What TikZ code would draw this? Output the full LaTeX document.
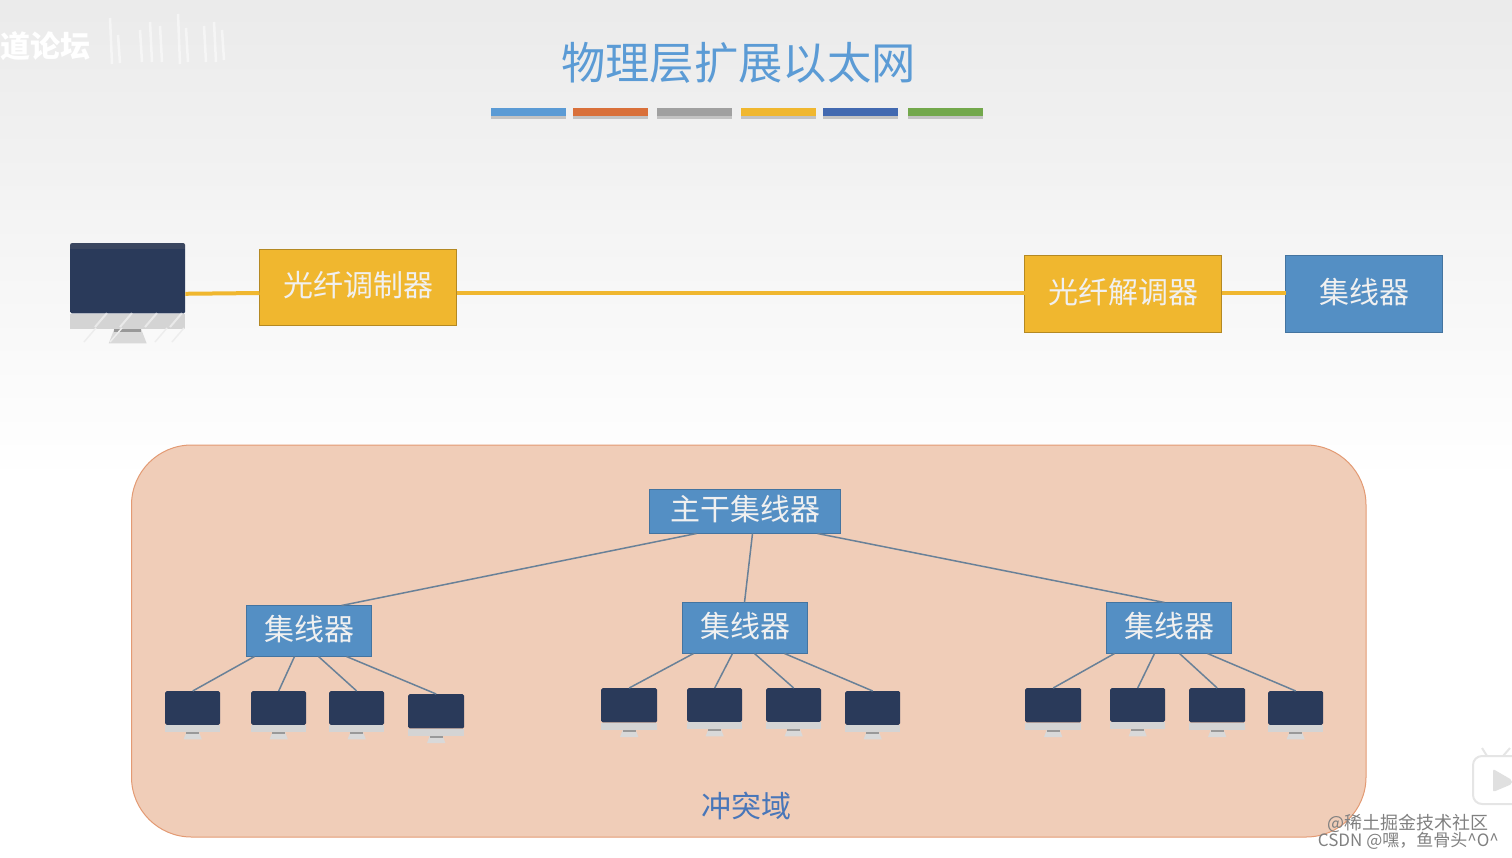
\documentclass[tikz,border=0pt]{standalone}
\usepackage{fontspec}
\newfontfamily\cjk{Noto Sans CJK SC}
\usetikzlibrary{shadows}
\definecolor{barblue}{HTML}{5B9BD5}
\definecolor{barorange}{HTML}{D9703A}
\definecolor{bargray}{HTML}{A0A0A0}
\definecolor{baryellow}{HTML}{F0B72F}
\definecolor{bardark}{HTML}{4269B0}
\definecolor{bargreen}{HTML}{73A84C}
\definecolor{screenblue}{HTML}{2A3A5A}
\definecolor{peach}{HTML}{F0CDB8}
\tikzset{
	boxtext/.style={font=\cjk\fontsize{30}{30}\selectfont, text=white!94!black, inner sep=0pt, outer sep=0pt, anchor=north west, text height=26pt, text depth=7.6pt},
	yellowbox/.style={boxtext, fill=baryellow, draw=black!25!baryellow, line width=1.5pt},
	bluebox/.style={boxtext, fill=barblue!92!black, draw=black!25!barblue, line width=1.5pt},
	screen/.style={fill=screenblue, rounded corners=1.5pt, inner sep=0pt, anchor=north west},
	fibre/.style={draw=baryellow, line width=4pt},
	uplink/.style={draw=black!15!barblue!45!gray, line width=1.5pt},
	colorbar/.style={drop shadow={opacity=.4, shadow xshift=0pt, shadow yshift=-2.5pt}}
}
% name, left, top, width
\newcommand{\monitor}[4]{
	\node [screen, minimum width=#4pt, minimum height=0.61*#4pt] (#1) at (#2,#3) {};
	\fill [black!17] (#1.south west) rectangle ([yshift=-0.13*#4pt]#1.south east);
	\fill [black!15] ([xshift=-0.115*#4pt, yshift=-0.13*#4pt]#1.south) -- ([xshift=0.115*#4pt, yshift=-0.13*#4pt]#1.south) -- ([xshift=0.165*#4pt, yshift=-0.26*#4pt]#1.south) -- ([xshift=-0.165*#4pt, yshift=-0.26*#4pt]#1.south) -- cycle;
	\fill [black!40] ([xshift=-0.115*#4pt, yshift=-0.13*#4pt]#1.south) rectangle ([xshift=0.115*#4pt, yshift=-0.16*#4pt]#1.south);
}
\begin{document}
\begin{tikzpicture}[x=1pt,y=-1pt]
	\useasboundingbox (0,0) rectangle (1512,857);
	\shade [top color=black!8, bottom color=white] (0,0) rectangle (1512,480);

	% watermark top left
	\node [text=white, font=\cjk\bfseries\fontsize{30}{30}\selectfont, inner sep=0pt] (forum) at (45,46) {道论坛};
	\foreach \sx/\sy/\sh in {110/18/46, 118/35/28, 140/30/32, 150/22/40, 160/26/36, 178/14/50, 186/28/34, 204/26/36, 214/22/40, 222/30/30}
		\draw [white, opacity=.5, line width=2.5pt] (\sx,\sy) -- ++(2,\sh);

	% title
	\node [font=\cjk\fontsize{44.3}{44.3}\selectfont, text=barblue, inner sep=0pt] (title) at (738.5,63) {物理层扩展以太网};
	\foreach \bx/\bc in {491/barblue, 573/barorange, 657/bargray, 741/baryellow, 823/bardark, 908/bargreen}
		\fill [colorbar, \bc] (\bx,108) rectangle ++(75,8);

	% fibre link
	\monitor{host}{70}{243}{115}
	\fill [black!85!screenblue!60!white, opacity=.25] (70,243) rectangle (185,249);
	\foreach \hx in {95,120,145,170}
		\draw [white, opacity=.5, line width=2pt] (\hx,327) -- ++(12,-14);
	\foreach \hx in {84,110,155,172}
		\draw [black!7, line width=1.5pt] (\hx,342) -- ++(12,-14);
	\node [yellowbox, minimum width=197pt, minimum height=76pt] (modem) at (259.5,249.5) {光纤调制器};
	\node [yellowbox, minimum width=197pt, minimum height=77pt] (demod) at (1024.5,255.5) {光纤解调器};
	\node [bluebox, minimum width=157pt, minimum height=77pt] (hub) at (1285.5,255.5) {集线器};
	\draw [fibre] ([yshift=-15.5pt]host.east) -- ([yshift=-5.5pt]modem.west);
	\draw [fibre] ([yshift=-5.5pt]modem.east) -- ([yshift=1pt]demod.west);
	\draw [fibre] ([yshift=1pt]demod.east) -- ([yshift=1pt]hub.west);

	% collision domain
	\draw [fill=peach, draw=barorange!55!peach, line width=1pt, rounded corners=60pt] (131.5,445) rectangle (1366,837);
	\node [font=\cjk\fontsize{30}{30}\selectfont, text=bardark!75!barblue, inner sep=0pt] (domain) at (746,806) {冲突域};

	\node [bluebox, minimum width=191pt, minimum height=44pt] (main) at (649.5,489.5) {主干集线器};
	\node [bluebox, minimum width=125pt, minimum height=51pt] (hubA) at (246.5,605.5) {集线器};
	\node [bluebox, minimum width=125pt, minimum height=51pt] (hubB) at (682.5,602.5) {集线器};
	\node [bluebox, minimum width=125pt, minimum height=51pt] (hubC) at (1106.5,602.5) {集线器};

	\monitor{pcAa}{165}{691}{55}
	\monitor{pcAb}{251}{691}{55}
	\monitor{pcAc}{329}{691}{55}
	\monitor{pcAd}{408}{694}{56}
	\monitor{pcBa}{601}{688}{56}
	\monitor{pcBb}{687}{688}{55}
	\monitor{pcBc}{766}{688}{55}
	\monitor{pcBd}{845}{691}{55}
	\monitor{pcCa}{1025}{688}{56}
	\monitor{pcCb}{1110}{688}{55}
	\monitor{pcCc}{1189}{688}{56}
	\monitor{pcCd}{1268}{691}{55}

	\draw [uplink] ([xshift=47pt]main.south west) -- ([xshift=95pt]hubA.north west);
	\draw [uplink] ([xshift=103pt]main.south west) -- ([xshift=62pt]hubB.north west);
	\draw [uplink] ([xshift=168pt]main.south west) -- ([xshift=58pt]hubC.north west);

	\draw [uplink] ([xshift=8pt]hubA.south west) -- (pcAa.north);
	\draw [uplink] ([xshift=48pt]hubA.south west) -- (pcAb.north);
	\draw [uplink] ([xshift=72pt]hubA.south west) -- (pcAc.north);
	\draw [uplink] ([xshift=100pt]hubA.south west) -- (pcAd.north);
	\draw [uplink] ([xshift=11pt]hubB.south west) -- (pcBa.north);
	\draw [uplink] ([xshift=50pt]hubB.south west) -- (pcBb.north);
	\draw [uplink] ([xshift=72pt]hubB.south west) -- (pcBc.north);
	\draw [uplink] ([xshift=102pt]hubB.south west) -- (pcBd.north);
	\draw [uplink] ([xshift=8pt]hubC.south west) -- (pcCa.north);
	\draw [uplink] ([xshift=48pt]hubC.south west) -- (pcCb.north);
	\draw [uplink] ([xshift=73pt]hubC.south west) -- (pcCc.north);
	\draw [uplink] ([xshift=101pt]hubC.south west) -- (pcCd.north);

	% video logo and site marks
	\draw [black!10, line width=2pt, fill=white, rounded corners=9pt] (1473,756) rectangle (1530,804);
	\draw [black!10, line width=2pt] (1487,756) -- (1482,748) (1503,756) -- (1510,748);
	\fill [black!12, rounded corners=2pt] (1493,769) -- (1512,780) -- (1512,784) -- (1493,792) -- cycle;
	\node [text=black!50, font=\cjk\fontsize{18}{18}\selectfont, inner sep=0pt, anchor=east] (juejin) at (1489,823) {@稀土掘金技术社区};
	\node [text=black!50, font=\cjk\fontsize{17}{17}\selectfont, inner sep=0pt, anchor=east] (csdn) at (1499,841) {CSDN @嘿，鱼骨头\textasciicircum O\textasciicircum};
\end{tikzpicture}
\end{document}
